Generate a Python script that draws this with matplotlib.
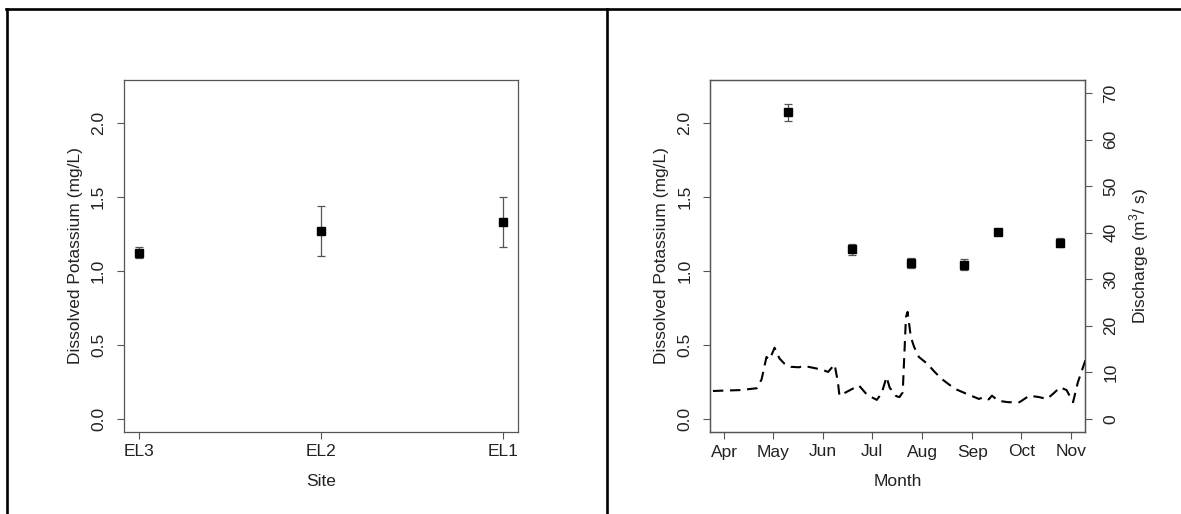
import matplotlib.pyplot as plt
import matplotlib.dates as mdates
from matplotlib.lines import Line2D
import numpy as np
import datetime as dt

plt.rcParams['font.family'] = ['Liberation Sans', 'DejaVu Sans']
plt.rcParams['mathtext.fontset'] = 'custom'
plt.rcParams['mathtext.rm'] = 'Liberation Sans'

# left panel: potassium by site
sites = ['EL3', 'EL2', 'EL1']
site_k = [1.12, 1.27, 1.33]
site_lo = [1.085, 1.10, 1.163]
site_hi = [1.158, 1.437, 1.50]

# right panel: monthly potassium samples
sample_dates = ['2013-05-10', '2013-06-19', '2013-07-25', '2013-08-27', '2013-09-17', '2013-10-25']
sample_k = [2.07, 1.145, 1.052, 1.041, 1.265, 1.19]
sample_err = [0.058, 0.037, 0.035, 0.036, 0.016, 0.029]

# discharge (m3/s), dashed line
q_dates = ['2013-03-25', '2013-04-01', '2013-04-11', '2013-04-21', '2013-04-24', '2013-04-27',
           '2013-04-29', '2013-05-02', '2013-05-05', '2013-05-08', '2013-05-12', '2013-05-17',
           '2013-05-20', '2013-05-27', '2013-05-31', '2013-06-04', '2013-06-08', '2013-06-10',
           '2013-06-11', '2013-06-17', '2013-06-23', '2013-06-28', '2013-07-04', '2013-07-07',
           '2013-07-10', '2013-07-12', '2013-07-16', '2013-07-18', '2013-07-20', '2013-07-22',
           '2013-07-23', '2013-07-25', '2013-07-27', '2013-07-30', '2013-08-04', '2013-08-09',
           '2013-08-13', '2013-08-21', '2013-08-29', '2013-09-05', '2013-09-08', '2013-09-11',
           '2013-09-13', '2013-09-17', '2013-09-23', '2013-09-30', '2013-10-06', '2013-10-12',
           '2013-10-17', '2013-10-21', '2013-10-25', '2013-10-29', '2013-11-02', '2013-11-05',
           '2013-11-10', '2013-11-13']
q_vals = [6.0, 6.1, 6.2, 6.6, 8.5, 13.3,
          12.8, 15.3, 13.0, 11.9, 11.2, 11.1,
          11.4, 10.9, 10.6, 10.1, 11.7, 8.0,
          5.0, 6.1, 7.2, 5.2, 4.1, 5.5,
          9.0, 6.7, 4.9, 4.7, 5.7, 21.9,
          23.0, 17.6, 15.5, 13.3, 11.9, 10.0,
          8.6, 6.5, 5.3, 4.3, 4.7, 4.2,
          5.0, 3.9, 3.6, 3.6, 5.0, 4.7,
          4.3, 5.5, 6.8, 6.2, 3.6, 7.9,
          13.0, 10.4]

month_ticks = ['2013-04-01', '2013-05-01', '2013-06-01', '2013-07-01',
               '2013-08-01', '2013-09-01', '2013-10-01', '2013-11-01']

txt = '#222222'
frame = '#555555'
fs = 12.5

W, H = 1181, 514
fig = plt.figure(figsize=(W / 100, H / 100), dpi=100)


def style(ax):
    for s in ax.spines.values():
        s.set_color(frame)
        s.set_linewidth(0.9)
    ax.tick_params(direction='out', length=5, width=0.8, color=frame,
                   labelsize=fs, labelcolor=txt)
    ax.tick_params(axis='x', pad=4)
    ax.tick_params(axis='y', pad=8)


def rot_left(ax):
    for lab in ax.get_yticklabels():
        lab.set_rotation(90)
        lab.set_va('center')
        lab.set_ha('right')


# ---- left panel
axL = fig.add_axes([124 / W, (H - 432) / H, 394 / W, 352 / H])
style(axL)
x = np.arange(1, len(sites) + 1)
yerr = [np.array(site_k) - np.array(site_lo), np.array(site_hi) - np.array(site_k)]
axL.errorbar(x, site_k, yerr=yerr, fmt='none', ecolor='#555555', elinewidth=0.9,
             capsize=3, capthick=0.9)
axL.plot(x, site_k, 's', color='black', ms=5.5)
axL.set_xticks(x)
axL.set_xticklabels(sites)
axL.set_xlim(1 - 0.08, 3 + 0.08)
axL.set_ylim(-0.088, 2.288)
axL.set_yticks([0, 0.5, 1.0, 1.5, 2.0])
axL.set_yticklabels(['0.0', '0.5', '1.0', '1.5', '2.0'])
rot_left(axL)
axL.set_xlabel('Site', fontsize=fs, color=txt)
axL.set_ylabel('Dissolved Potassium (mg/L)', fontsize=fs, color=txt)
axL.yaxis.set_label_coords(-41 / 394, 0.5)
axL.xaxis.set_label_coords(0.5, -42 / 352)

# ---- right panel
axR = fig.add_axes([710.4 / W, (H - 432) / H, 374.9 / W, 352 / H])
style(axR)
sd = [dt.datetime.strptime(d, '%Y-%m-%d') for d in sample_dates]
qd = [dt.datetime.strptime(d, '%Y-%m-%d') for d in q_dates]
mt = [dt.datetime.strptime(d, '%Y-%m-%d') for d in month_ticks]

axR.errorbar(sd, sample_k, yerr=sample_err, fmt='none', ecolor='#555555',
             elinewidth=0.9, capsize=3, capthick=0.9)
axR.plot(sd, sample_k, 's', color='black', ms=5.5)
axR.set_ylim(-0.088, 2.288)
axR.set_yticks([0, 0.5, 1.0, 1.5, 2.0])
axR.set_yticklabels(['0.0', '0.5', '1.0', '1.5', '2.0'])
rot_left(axR)
axR.set_xticks(mt)
axR.xaxis.set_major_formatter(mdates.DateFormatter('%b'))
x0, x1 = mdates.date2num(mt[0]), mdates.date2num(mt[-1])
pad = 0.04 * (x1 - x0)
axR.set_xlim(x0 - pad, x1 + pad)
axR.set_xlabel('Month', fontsize=fs, color=txt)
axR.set_ylabel('Dissolved Potassium (mg/L)', fontsize=fs, color=txt)
axR.yaxis.set_label_coords(-41 / 374.9, 0.5)
axR.xaxis.set_label_coords(0.5, -42 / 352)

ax2 = axR.twinx()
style(ax2)
ax2.plot(qd, q_vals, color='black', lw=1.5, linestyle=(0, (5, 3.2)))
ax2.set_ylim(-2.8, 72.8)
ax2.set_yticks(range(0, 71, 10))
for lab in ax2.get_yticklabels():
    lab.set_rotation(90)
    lab.set_va('center')
    lab.set_ha('left')
ax2.set_xlim(x0 - pad, x1 + pad)
ax2.set_ylabel(r'Discharge (m$^3$/ s)', fontsize=fs, color=txt)
ax2.yaxis.set_label_coords(1 + 42 / 374.9, 0.5)

# table borders
lw = 1.9
fig.add_artist(Line2D([6 / W, 1], [1 - 9 / H, 1 - 9 / H], color='black', lw=lw))
fig.add_artist(Line2D([7 / W, 7 / W], [0, 1 - 9 / H], color='black', lw=lw))
fig.add_artist(Line2D([607 / W, 607 / W], [0, 1 - 9 / H], color='black', lw=lw))

fig.savefig('out.png', dpi=100)
